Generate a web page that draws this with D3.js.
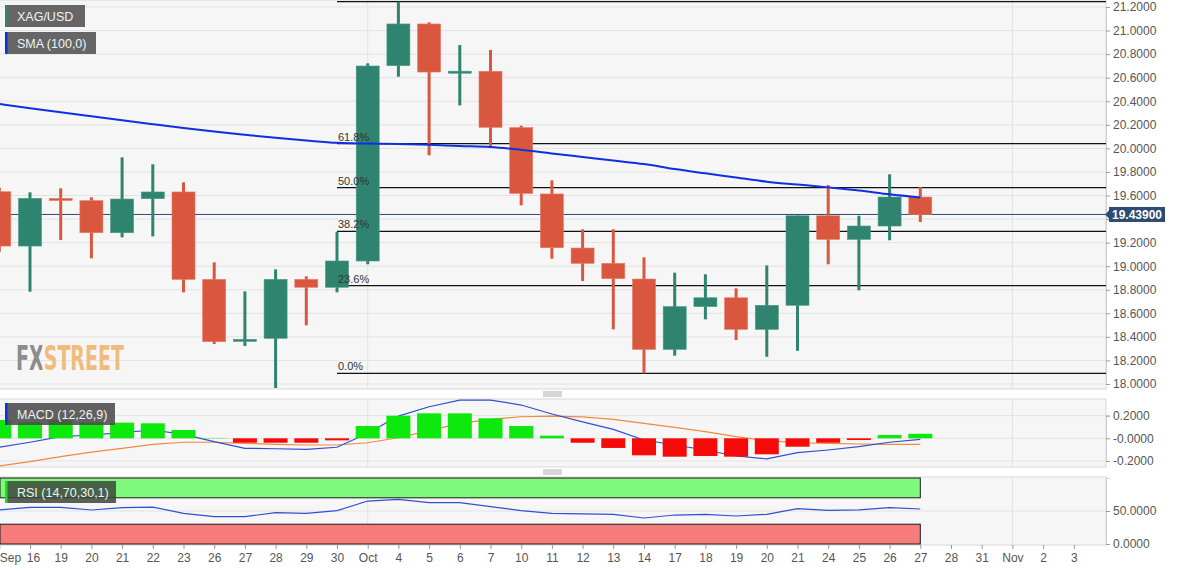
<!DOCTYPE html>
<html>
<head>
<meta charset="utf-8">
<script src="https://cdn.jsdelivr.net/npm/d3@7"></script>
<style>
	body { margin: 0; background: #fff; font-family: "Liberation Sans", Arial, sans-serif; }
	svg { display: block; }
</style>
</head>
<body>
<div id="chart"></div>
<script>
// Day labels (last five are empty future sessions)
const dayLabels = ["Sep", "16", "19", "20", "21", "22", "23", "26", "27", "28", "29", "30",
	"Oct", "4", "5", "6", "7", "10", "11", "12", "13", "14", "17", "18", "19", "20", "21",
	"24", "25", "26", "27", "28", "31", "Nov", "2", "3"];

// XAG/USD daily OHLC
const open = [19.632, 19.171, 19.575, 19.556, 19.284, 19.573, 19.630, 18.888, 18.362, 18.388, 18.888, 18.821,
	19.044, 20.702, 21.056, 20.645, 20.654, 20.176, 19.613, 19.154, 19.024, 18.891, 18.294, 18.657, 18.732,
	18.464, 18.668, 19.428, 19.228, 19.341, 19.587];
const high = [19.666, 19.627, 19.661, 19.585, 19.924, 19.865, 19.712, 19.033, 18.786, 18.973, 18.914, 19.293,
	20.722, 21.245, 21.070, 20.877, 20.835, 20.193, 19.729, 19.313, 19.313, 19.075, 18.945, 18.931, 18.812,
	19.007, 19.430, 19.689, 19.428, 19.780, 19.672];
const low = [19.123, 18.783, 19.222, 19.067, 19.245, 19.253, 18.778, 18.339, 18.322, 17.966, 18.498, 18.778,
	19.016, 20.608, 19.941, 20.365, 20.006, 19.517, 19.063, 18.874, 18.464, 18.090, 18.240, 18.549, 18.373,
	18.231, 18.282, 19.016, 18.795, 19.220, 19.375];
const close = [19.171, 19.576, 19.562, 19.284, 19.570, 19.630, 18.888, 18.359, 18.379, 18.888, 18.821, 19.044,
	20.699, 21.056, 20.648, 20.655, 20.179, 19.618, 19.157, 19.024, 18.894, 18.294, 18.657, 18.732, 18.464,
	18.668, 19.428, 19.228, 19.341, 19.587, 19.439];

// SMA (100)
const sma = [20.377, 20.341, 20.306, 20.272, 20.238, 20.205, 20.173, 20.143, 20.116, 20.090, 20.067, 20.047,
	20.041, 20.037, 20.030, 20.020, 20.012, 19.988, 19.957, 19.927, 19.897, 19.867, 19.824, 19.788, 19.753,
	19.717, 19.693, 19.669, 19.643, 19.610, 19.583];

// Fibonacci retracement
const fibLevels = [0, 23.6, 38.2, 50, 61.8, 100];
const fibLow = 18.09, fibHigh = 21.245, fibStart = 11;
const lastPrice = 19.439;

// MACD (12,26,9)
const macdHist = [0.161, 0.141, 0.161, 0.141, 0.138, 0.132, 0.073, 0.003, -0.039, -0.039, -0.039, -0.018,
	0.108, 0.199, 0.220, 0.220, 0.176, 0.108, 0.023, -0.039, -0.085, -0.150, -0.162, -0.156, -0.162,
	-0.141, -0.074, -0.039, -0.015, 0.029, 0.040];
const macdLine = [-0.079, -0.035, 0.014, 0.029, 0.050, 0.073, 0.035, -0.030, -0.088, -0.092, -0.097, -0.079,
	0.044, 0.196, 0.278, 0.337, 0.337, 0.293, 0.214, 0.145, 0.079, -0.015, -0.059, -0.103, -0.156,
	-0.182, -0.127, -0.103, -0.074, -0.035, -0.009];
const signalLine = [-0.244, -0.206, -0.162, -0.121, -0.088, -0.053, -0.035, -0.035, -0.044, -0.053, -0.059, -0.059,
	-0.039, 0.005, 0.067, 0.132, 0.167, 0.190, 0.196, 0.188, 0.167, 0.132, 0.097, 0.058, 0.014,
	-0.021, -0.039, -0.044, -0.050, -0.053, -0.053];

// RSI (14)
const rsi = [51.5, 55.6, 55.6, 51.5, 55.0, 56.0, 46.5, 41.4, 41.4, 47.5, 46.5, 50.5,
	65.1, 67.7, 62.6, 62.6, 56.6, 50.5, 46.5, 45.5, 45.0, 39.4, 43.9, 45.0, 42.4,
	45.0, 53.5, 51.0, 51.8, 55.0, 53.0];

// Axis ticks
const priceTicks = d3.range(0, 17).map(i => +(18 + i * 0.2).toFixed(1));
const macdTicks = [0.2, 0, -0.2];
const macdTickLabels = ["0.2000", "-0.0000", "-0.2000"];
const rsiTicks = [50, 0];

// Layout
const W = 1182, H = 571, plotR = 1106;
const mainP = { top: 0, bottom: 389 };
const macdP = { top: 399, bottom: 467 };
const rsiP = { top: 477, bottom: 545 };

const green = "#2f8470", red = "#d9573f";

const svg = d3.select("#chart").append("svg").attr("width", W).attr("height", H);

const x = d3.scalePoint().domain(d3.range(dayLabels.length)).range([-0.7, 1073.8]);
const candleW = 23;

const y = d3.scaleLinear().domain([18, 21.2]).range([384, 7]);
const yM = d3.scaleLinear().domain([-0.2, 0.2]).range([461, 415.6]);
const yR = d3.scaleLinear().domain([0, 100]).range([544, 478]);

const defs = svg.append("defs");
function panel(p, id) {
	defs.append("clipPath").attr("id", id)
		.append("rect").attr("x", 0).attr("y", p.top).attr("width", plotR).attr("height", p.bottom - p.top);
	svg.append("rect")
		.attr("x", -1).attr("y", p.top).attr("width", plotR + 1).attr("height", p.bottom - p.top)
		.attr("fill", "#f6f6f6").attr("stroke", "#d8d8d8");
	return svg.append("g").attr("clip-path", `url(#${id})`);
}

const monthIdx = dayLabels.map((d, i) => (isNaN(+d) && i > 0 ? i : -1)).filter(i => i >= 0);

function vGrid(g, p) {
	g.selectAll(null).data(monthIdx).enter().append("line")
		.attr("x1", i => x(i)).attr("x2", i => x(i))
		.attr("y1", p.top).attr("y2", p.bottom)
		.attr("stroke", "#e2e2e2");
}

function styleAxis(g) {
	g.select(".domain").attr("stroke", "#cfcfcf");
	g.selectAll(".tick line").attr("stroke", "#9a9a9a");
	g.selectAll(".tick text").attr("fill", "#555").style("font-size", "12px")
		.style("font-family", "'Liberation Sans', Arial, sans-serif");
}

// ---------- Main panel ----------
const gMain = panel(mainP, "clipMain");

gMain.selectAll(null).data(priceTicks).enter().append("line")
	.attr("x1", 0).attr("x2", plotR)
	.attr("y1", d => y(d)).attr("y2", d => y(d))
	.attr("stroke", "#e3e3e3");
vGrid(gMain, mainP);

// watermark logo, two-tone via a hard-stop gradient
const logoGrad = defs.append("linearGradient").attr("id", "logoGrad")
	.attr("gradientUnits", "userSpaceOnUse")
	.attr("x1", 16).attr("x2", 124).attr("y1", 0).attr("y2", 0);
logoGrad.append("stop").attr("offset", 0.245).attr("stop-color", "#8c8c8c");
logoGrad.append("stop").attr("offset", 0.245).attr("stop-color", "#f0bb7c");
gMain.append("text")
	.attr("x", 16).attr("y", 370)
	.attr("fill", "url(#logoGrad)")
	.style("font-size", "34px").style("font-weight", "bold")
	.style("font-family", "'Liberation Sans Narrow', 'DejaVu Sans Condensed', sans-serif")
	.attr("textLength", 108).attr("lengthAdjust", "spacingAndGlyphs")
	.text("FXSTREET");

// last price line
gMain.append("line")
	.attr("x1", 0).attr("x2", plotR)
	.attr("y1", y(lastPrice)).attr("y2", y(lastPrice))
	.attr("stroke", "#2c4c74").attr("stroke-width", 1);

// fibonacci lines
const fibVals = fibLevels.map(p => fibLow + (fibHigh - fibLow) * p / 100);
gMain.selectAll(null).data(fibVals).enter().append("line")
	.attr("x1", x(fibStart)).attr("x2", plotR)
	.attr("y1", d => y(d)).attr("y2", d => y(d))
	.attr("stroke", "#111").attr("stroke-width", 1.2);

// candles
const candles = gMain.selectAll(".candle").data(open.map((o, i) => i)).enter()
	.append("g").attr("class", "candle");
candles.append("line")
	.attr("x1", i => x(i)).attr("x2", i => x(i))
	.attr("y1", i => y(high[i])).attr("y2", i => y(low[i]))
	.attr("stroke", i => (close[i] >= open[i] ? green : red))
	.attr("stroke-width", 3);
candles.append("rect")
	.attr("x", i => x(i) - candleW / 2)
	.attr("width", candleW)
	.attr("y", i => y(Math.max(open[i], close[i])))
	.attr("height", i => Math.max(2, Math.abs(y(open[i]) - y(close[i]))))
	.attr("fill", i => (close[i] >= open[i] ? green : red))
	.attr("stroke", i => (close[i] >= open[i] ? "#4a9a86" : "#e77a64"))
	.attr("stroke-width", 0.6);

// fibonacci labels on top of candles (100% sits above the panel)
const fibShown = fibLevels.filter(p => p < 100);
gMain.selectAll(null).data(fibShown).enter().append("text")
	.attr("x", x(fibStart) + 1)
	.attr("y", (p, i) => y(fibVals[i]) - 3)
	.attr("fill", "#333").style("font-size", "11px")
	.text(p => p.toFixed(1) + "%");

// SMA
gMain.append("path")
	.datum(sma)
	.attr("fill", "none").attr("stroke", "#1030e0").attr("stroke-width", 2)
	.attr("d", d3.line().x((d, i) => x(i)).y(d => y(d)).curve(d3.curveMonotoneX));

const yAxisG = svg.append("g").attr("transform", `translate(${plotR},0)`)
	.call(d3.axisRight(y).tickValues(priceTicks).tickSize(4).tickPadding(3).tickFormat(d3.format(".4f")))
	.call(styleAxis);
// the price tag covers this label
yAxisG.selectAll(".tick").filter(d => Math.abs(d - lastPrice) < 0.1).select("text").remove();

// price tag
const tagY = y(lastPrice);
svg.append("path")
	.attr("d", `M${plotR - 1},${tagY} L${plotR + 3},${tagY - 4} L${plotR + 3},${tagY + 4} Z`)
	.attr("fill", "#2c4c74");
svg.append("rect")
	.attr("x", plotR + 3).attr("y", tagY - 7.5).attr("width", 56).attr("height", 15)
	.attr("fill", "#2c4c74");
svg.append("text")
	.attr("x", plotR + 31).attr("y", tagY + 4.5).attr("text-anchor", "middle")
	.attr("fill", "#fff").style("font-size", "12px").style("font-weight", "bold")
	.text(lastPrice.toFixed(5));

// ---------- MACD panel ----------
const gMacd = panel(macdP, "clipMacd");
gMacd.selectAll(null).data(macdTicks).enter().append("line")
	.attr("x1", 0).attr("x2", plotR)
	.attr("y1", d => yM(d)).attr("y2", d => yM(d))
	.attr("stroke", "#e3e3e3");
vGrid(gMacd, macdP);

gMacd.append("path")
	.datum(signalLine)
	.attr("fill", "none").attr("stroke", "#f08a3c").attr("stroke-width", 1.2)
	.attr("d", d3.line().x((d, i) => x(i)).y(d => yM(d)));
gMacd.append("path")
	.datum(macdLine)
	.attr("fill", "none").attr("stroke", "#2f4fd0").attr("stroke-width", 1.2)
	.attr("d", d3.line().x((d, i) => x(i)).y(d => yM(d)));

gMacd.selectAll(".hist").data(macdHist).enter().append("rect")
	.attr("class", "hist")
	.attr("x", (d, i) => x(i) - candleW / 2 - 0.5)
	.attr("width", candleW + 1)
	.attr("y", d => Math.min(yM(0), yM(d)))
	.attr("height", d => Math.abs(yM(d) - yM(0)))
	.attr("fill", d => (d >= 0 ? "#0de80d" : "#f50a0a"));

svg.append("g").attr("transform", `translate(${plotR},0)`)
	.call(d3.axisRight(yM).tickValues(macdTicks).tickSize(4).tickPadding(3)
		.tickFormat((d, i) => macdTickLabels[i]))
	.call(styleAxis);

// ---------- RSI panel ----------
const gRsi = panel(rsiP, "clipRsi");
gRsi.append("line")
	.attr("x1", 0).attr("x2", plotR)
	.attr("y1", yR(50)).attr("y2", yR(50))
	.attr("stroke", "#e3e3e3");
vGrid(gRsi, rsiP);

const lastIdx = close.length - 1;
gRsi.append("rect")
	.attr("x", 0).attr("y", yR(100))
	.attr("width", x(lastIdx)).attr("height", yR(70) - yR(100))
	.attr("fill", "#7ef97e").attr("stroke", "#1a1a1a");
gRsi.append("rect")
	.attr("x", 0).attr("y", yR(30))
	.attr("width", x(lastIdx)).attr("height", yR(0) - yR(30))
	.attr("fill", "#f87b7b").attr("stroke", "#1a1a1a");

gRsi.append("path")
	.datum(rsi)
	.attr("fill", "none").attr("stroke", "#3050d0").attr("stroke-width", 1.2)
	.attr("d", d3.line().x((d, i) => x(i)).y(d => yR(d)));

svg.append("g").attr("transform", `translate(${plotR},0)`)
	.call(d3.axisRight(yR).tickValues(rsiTicks).tickSize(4).tickPadding(3).tickFormat(d3.format(".4f")))
	.call(styleAxis);

// ---------- X axis ----------
const xAxisG = svg.append("g").attr("transform", `translate(0,${rsiP.bottom})`)
	.call(d3.axisBottom(x).tickSize(4).tickPadding(4).tickFormat(i => dayLabels[i]))
	.call(styleAxis);
xAxisG.select(".domain").remove();
xAxisG.selectAll(".tick").filter(i => i === 0).select("text")
	.attr("text-anchor", "start").attr("x", 0);
xAxisG.selectAll(".tick").filter(i => i === 1).select("text").attr("x", 3);

// ---------- panel handles ----------
[mainP.bottom + 3, macdP.bottom + 3].forEach(hy => {
	[0, 2, 4].forEach(o => {
		svg.append("line")
			.attr("x1", 543).attr("x2", 562)
			.attr("y1", hy + o).attr("y2", hy + o)
			.attr("stroke", "#777").attr("stroke-width", 0.6);
	});
});

// ---------- legend boxes ----------
function legendBox(bx, by, bw, text, accent, fill) {
	svg.append("rect").attr("x", bx).attr("y", by).attr("width", bw).attr("height", 22).attr("fill", fill);
	svg.append("rect").attr("x", bx).attr("y", by).attr("width", 2.5).attr("height", 22).attr("fill", accent);
	svg.append("text").attr("x", bx + 12).attr("y", by + 15.5)
		.attr("fill", "#f2f2f2").style("font-size", "12.5px")
		.text(text);
}
legendBox(5, 5, 80, "XAG/USD", green, "#666");
legendBox(5, 32, 91, "SMA (100,0)", "#1030e0", "#666");
legendBox(5, 403, 110, "MACD (12,26,9)", "#1030e0", "rgba(75,75,75,0.88)");
legendBox(5, 481, 111, "RSI (14,70,30,1)", "#22dd22", "rgba(60,70,60,0.85)");
</script>
</body>
</html>
